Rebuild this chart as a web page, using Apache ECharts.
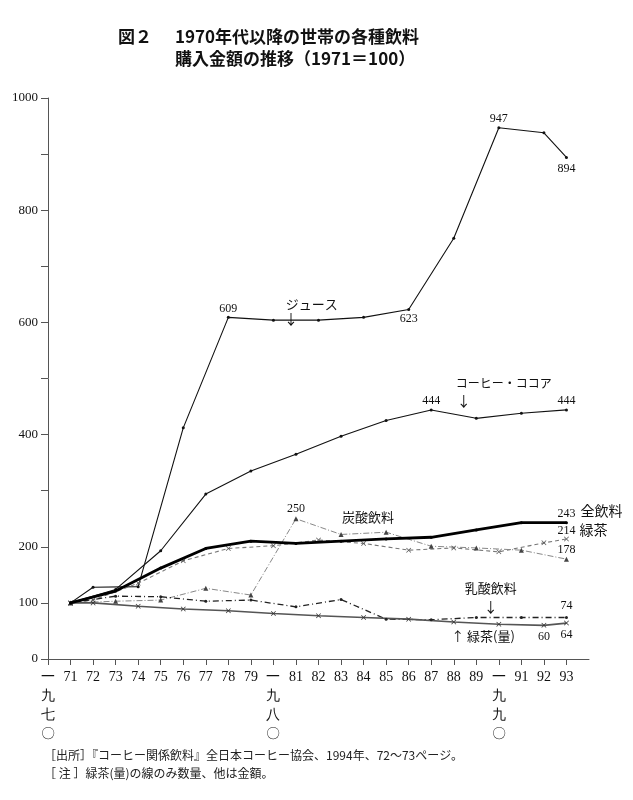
<!DOCTYPE html>
<html><head><meta charset="utf-8">
<script src="https://cdn.jsdelivr.net/npm/echarts@6/dist/echarts.min.js"></script>
<style>html,body{margin:0;background:#fff}#c{width:633px;height:800px}</style>
</head><body><div id="c"></div>
<script>
// ---- tick values / labels ----
const xTicks = [1970,1971,1972,1973,1974,1975,1976,1977,1978,1979,1980,1981,1982,1983,1984,1985,1986,1987,1988,1989,1990,1991,1992,1993];
const decadeLabels = {1970:'一\n九\n七\n〇', 1980:'一\n九\n八\n〇', 1990:'一\n九\n九\n〇'};
const yTicks = [0,100,200,300,400,500,600,700,800,900,1000];
const yLabels = [0,100,200,400,600,800,1000];

// ---- series data ----
const juiceYears = [1971,1972,1974,1976,1978,1980,1982,1984,1986,1988,1990,1992,1993];
const juiceVals  = [100,128,129,412,609,604,604,609,623,750,947,938,894];

const coffeeYears = [1971,1973,1975,1977,1979,1981,1983,1985,1987,1989,1991,1993];
const coffeeVals  = [100,124,193,294,335,365,397,425,444,429,438,444];

const totalYears = [1971,1973,1975,1977,1979,1981,1983,1985,1987,1989,1991,1993];
const totalVals  = [100,121,162,197,210,206,210,214,217,230,243,243];

const greenTeaYears = [1971,1972,1974,1976,1978,1980,1982,1984,1986,1988,1990,1992,1993];
const greenTeaVals  = [100,105,135,175,197,202,212,206,194,198,191,207,214];

const sodaYears = [1971,1973,1975,1977,1979,1981,1983,1985,1987,1989,1991,1993];
const sodaVals  = [100,103,105,126,114,250,222,226,201,198,194,178];

const lacticYears = [1971,1973,1975,1977,1979,1981,1983,1985,1987,1989,1991,1993];
const lacticVals  = [100,112,111,103,105,93,106,71,70,74,74,74];

const teaVolYears = [1971,1972,1974,1976,1978,1980,1982,1984,1986,1988,1990,1992,1993];
const teaVolVals  = [100,100,94,89,86,81,77,74,71,66,62,60,64];

// ---- helpers ----
const SERIF = "'Liberation Serif','DejaVu Serif',serif";
const CJK = "'Noto Sans CJK JP','Noto Sans CJK SC',sans-serif";
const XMARK = 'path://M0,1L1,0L5,4L9,0L10,1L6,5L10,9L9,10L5,6L1,10L0,9L4,5Z';
function pairs(xs, ys){ return xs.map((x,i)=>[x, ys[i]]); }
function valNote(xs, ys, i, pos, dist, ox, oy){
  return {coord:[xs[i], ys[i]], symbol:'circle', symbolSize:0,
    label:{show:true, formatter:String(ys[i]), position:pos, distance:dist, offset:[ox||0, oy||0],
      fontFamily:SERIF, fontSize:12, color:'#111'}};
}
function textNote(coord, text, size, pos, dist, ox, oy){
  return {coord:coord, symbol:'circle', symbolSize:0,
    label:{show:true, formatter:text, position:pos||'inside', distance:dist||0, offset:[ox||0, oy||0],
      fontFamily:CJK, fontSize:size, color:'#111'}};
}
function mk(name, xs, ys, line, symbol, symSize, symColor, notes){
  return {name, type:'line', data:pairs(xs, ys), symbol, symbolSize:symSize,
    itemStyle:{color:symColor}, lineStyle:line, animation:false, z: line.width>2?5:3,
    markPoint:{symbol:'circle', symbolSize:0, animation:false, data:notes||[]}};
}

const series = [
  mk('ジュース', juiceYears, juiceVals, {color:'#111', width:1.1}, 'circle', 3, '#111', [
    valNote(juiceYears, juiceVals, 4, 'top', 3),
    valNote(juiceYears, juiceVals, 8, 'bottom', 3),
    valNote(juiceYears, juiceVals, 10, 'top', 3),
    valNote(juiceYears, juiceVals, 12, 'bottom', 5),
    textNote([1981.7, 633], 'ジュース', 13),
    textNote([1980.78, 606], '↓', 14)
  ]),
  mk('コーヒー・ココア', coffeeYears, coffeeVals, {color:'#111', width:1.1}, 'circle', 3, '#111', [
    valNote(coffeeYears, coffeeVals, 8, 'top', 3),
    valNote(coffeeYears, coffeeVals, 11, 'top', 3),
    textNote([1990.22, 492], 'コーヒー・ココア', 12),
    textNote([1988.44, 460], '↓', 14)
  ]),
  mk('緑茶', greenTeaYears, greenTeaVals, {color:'#777', width:1.1, type:[4,3]}, XMARK, 5, '#555', [
    valNote(greenTeaYears, greenTeaVals, 12, 'top', 2),
    textNote([greenTeaYears[12], greenTeaVals[12]], '緑茶', 14, 'right', 13, 0, -9)
  ]),
  mk('炭酸飲料', sodaYears, sodaVals, {color:'#888', width:1, type:[6,2,1,2]}, 'triangle', 5, '#444', [
    valNote(sodaYears, sodaVals, 5, 'top', 4),
    valNote(sodaYears, sodaVals, 11, 'top', 3),
    textNote([1984.2, 253], '炭酸飲料', 13)
  ]),
  mk('乳酸飲料', lacticYears, lacticVals, {color:'#222', width:1.3, type:[6,3,1,3]}, 'circle', 3, '#222', [
    valNote(lacticYears, lacticVals, 11, 'top', 6),
    textNote([1989.64, 127], '乳酸飲料', 13),
    textNote([1989.64, 94], '↓', 14)
  ]),
  mk('緑茶(量)', teaVolYears, teaVolVals, {color:'#555', width:1.6}, XMARK, 5, '#333', [
    valNote(teaVolYears, teaVolVals, 11, 'bottom', 6),
    valNote(teaVolYears, teaVolVals, 12, 'bottom', 6),
    textNote([1989.3, 41], '↑ 緑茶(量)', 13)
  ]),
  mk('全飲料', totalYears, totalVals, {color:'#000', width:2.8}, 'circle', 3, '#000', [
    valNote(totalYears, totalVals, 11, 'top', 3),
    textNote([totalYears[11], totalVals[11]], '全飲料', 14, 'right', 14, 0, -12)
  ])
];

const chart = echarts.init(document.getElementById('c'), null, {renderer:'canvas'});
chart.setOption({
  backgroundColor:'#fff',
  animation:false,
  grid:{left:48, right:44, top:98, bottom:141, containLabel:false},
  xAxis:{type:'value', min:1970, max:1994, interval:1,
    axisLine:{show:true, onZero:false, lineStyle:{color:'#555', width:1}},
    axisTick:{show:true, length:6, customValues:xTicks, lineStyle:{color:'#555'}},
    axisLabel:{show:true, customValues:xTicks, margin:9, fontFamily:SERIF, fontSize:14, color:'#111',
      lineHeight:19, verticalAlign:'top',
      formatter:v=> decadeLabels[v] ? decadeLabels[v] : String(v % 100)},
    splitLine:{show:false}},
  yAxis:{type:'value', min:0, max:1000, interval:100,
    axisLine:{show:true, lineStyle:{color:'#555', width:1}},
    axisTick:{show:true, length:7, customValues:yTicks, lineStyle:{color:'#555'}},
    axisLabel:{show:true, customValues:yLabels, margin:10, fontFamily:SERIF, fontSize:13, color:'#111',
      formatter:v=>String(v)},
    splitLine:{show:false}},
  series: series,
  graphic:[
    {type:'text', left:118, top:28, style:{text:'図２', font:"bold 17px 'Noto Sans CJK JP'", fill:'#111'}},
    {type:'text', left:175, top:28, style:{text:'1970年代以降の世帯の各種飲料', font:"bold 17px 'Noto Sans CJK JP'", fill:'#111'}},
    {type:'text', left:175, top:50, style:{text:'購入金額の推移（1971＝100）', font:"bold 17px 'Noto Sans CJK JP'", fill:'#111'}},
    {type:'text', left:44, top:749, style:{text:'［出所］『コーヒー関係飲料』全日本コーヒー協会、1994年、72～73ページ。', font:"12px 'Noto Sans CJK JP'", fill:'#222'}},
    {type:'text', left:44, top:767, style:{text:'［ 注 ］緑茶(量)の線のみ数量、他は金額。', font:"12px 'Noto Sans CJK JP'", fill:'#222'}}
  ]
});
</script>
</body></html>
